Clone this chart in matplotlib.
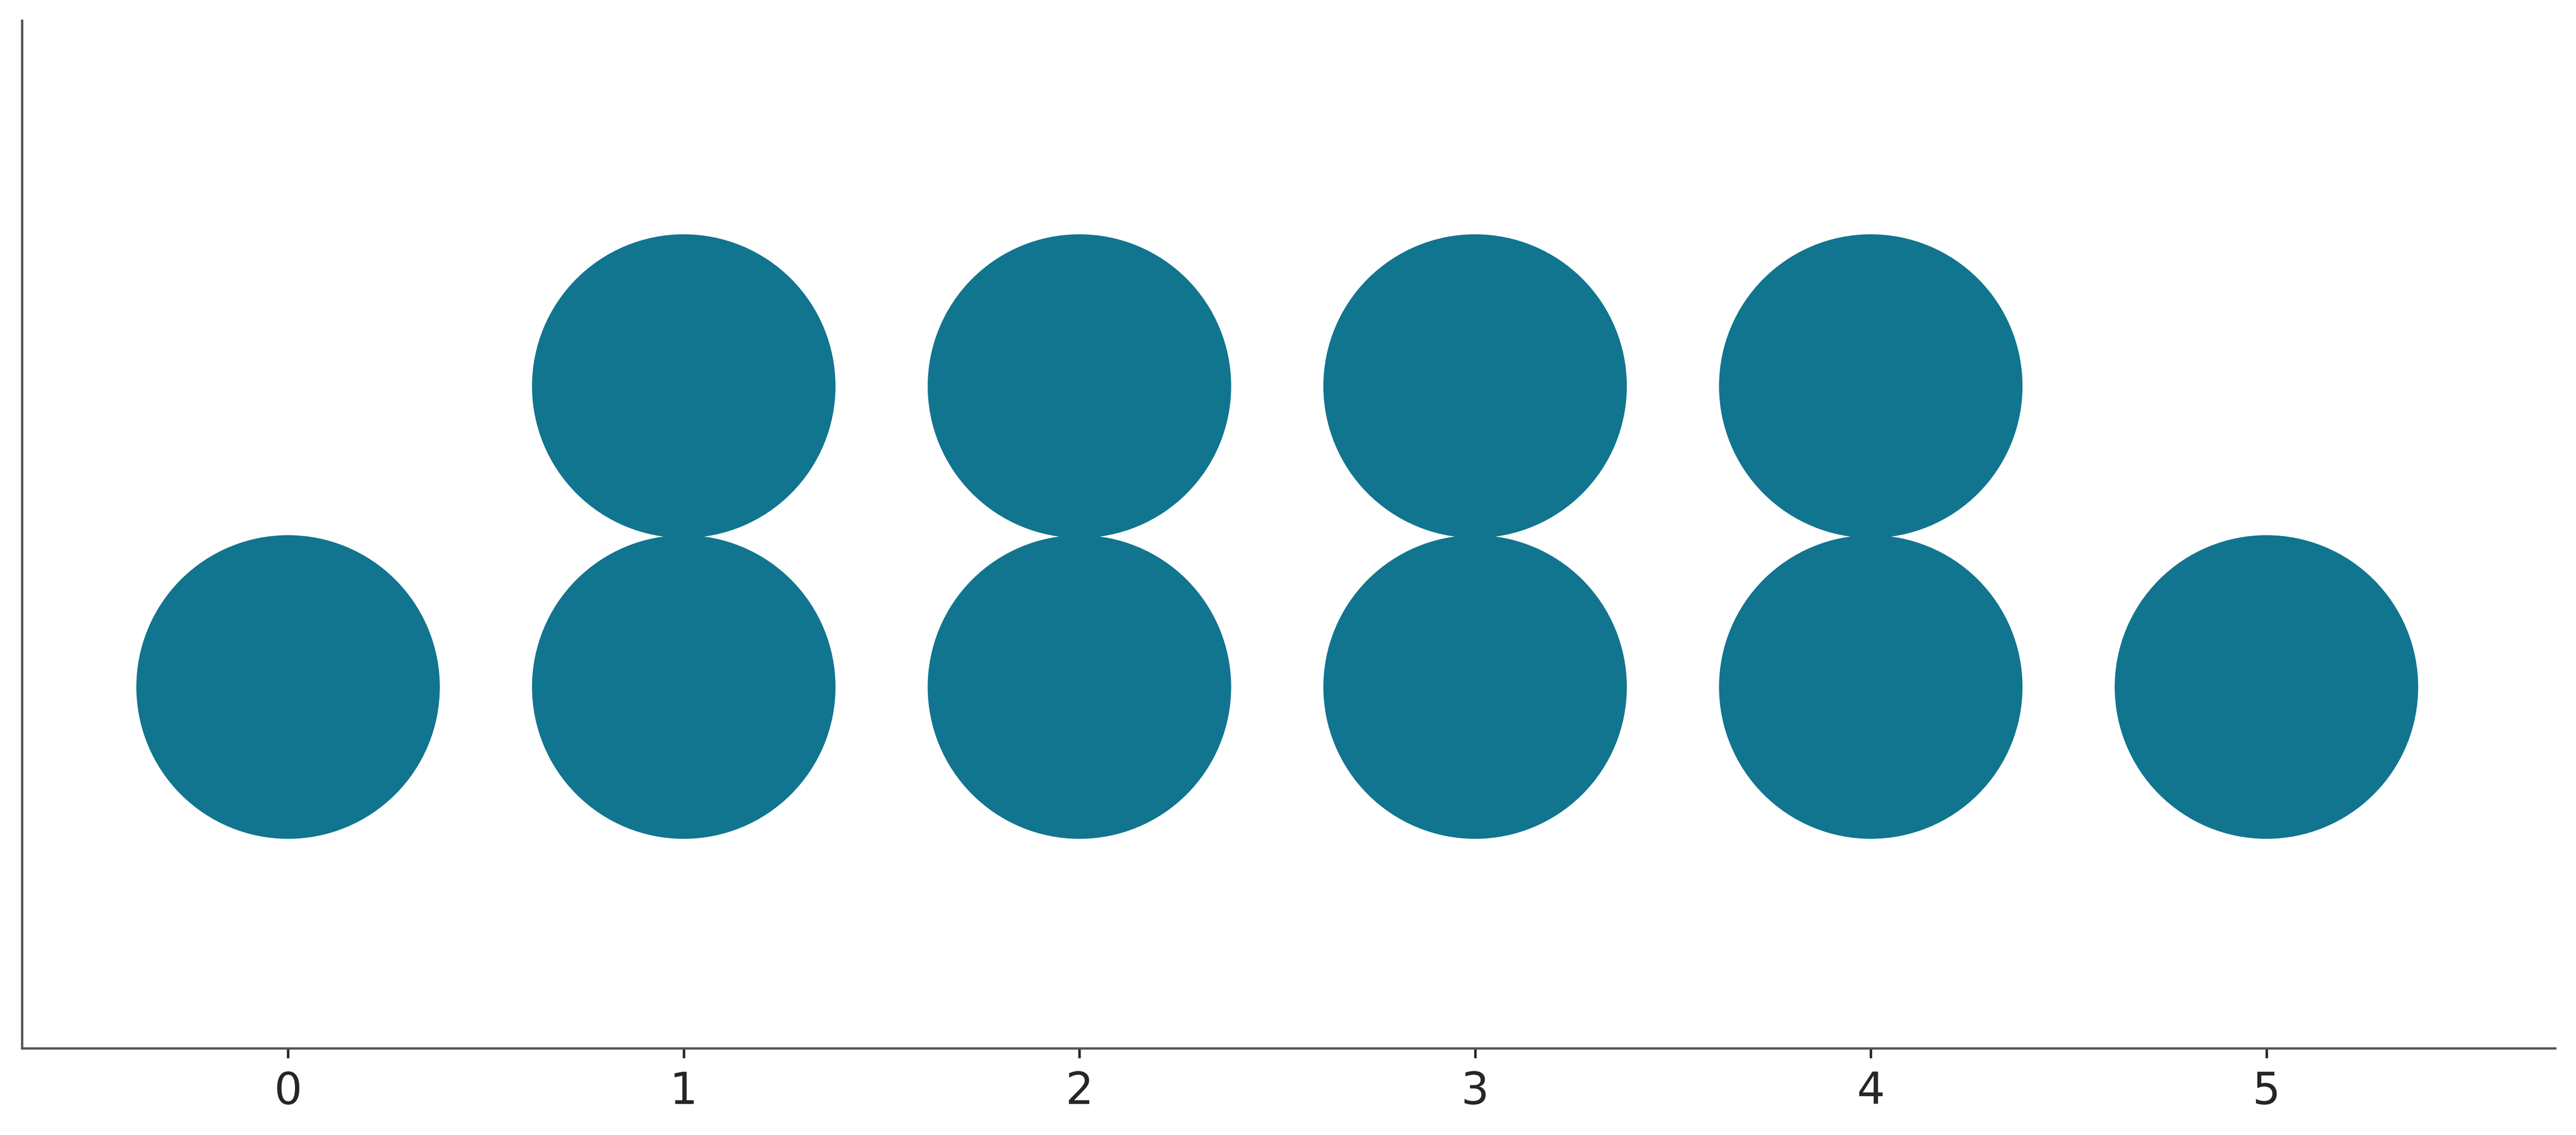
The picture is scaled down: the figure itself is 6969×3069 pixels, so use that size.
import matplotlib
matplotlib.use("Agg")
import matplotlib.pyplot as plt
from matplotlib.patches import Circle

# Data
values = [0, 1, 2, 3, 4, 5]
counts = [1, 2, 2, 2, 2, 1]
tick_labels = ["0", "1", "2", "3", "4", "5"]

DPI = 300
fig = plt.figure(figsize=(6969 / DPI, 3069 / DPI), dpi=DPI)
fig.patch.set_facecolor("white")
ax = fig.add_axes([0.00861, 0.07625, 0.98335, 0.9055])

r = 0.3835
base = 0.913
step = 2 * r - 0.007
color = "#11758f"
for v, c in zip(values, counts):
    for k in range(c):
        ax.add_patch(Circle((v, base + k * step), r, facecolor=color,
                            edgecolor="none"))

ax.set_xlim(-0.672, 5.730)
ax.set_ylim(0, 2.596)

ax.set_xticks(values)
ax.set_xticklabels(tick_labels)
ax.set_yticks([])
ax.tick_params(axis="x", length=6.2, width=1.6, color="#262626",
               labelsize=28.6, labelcolor="#262626", pad=8)
for s in ["top", "right"]:
    ax.spines[s].set_visible(False)
for s in ["left", "bottom"]:
    ax.spines[s].set_color("#555555")
    ax.spines[s].set_linewidth(1.5)

fig.savefig("out.png", dpi=DPI, facecolor="white")
